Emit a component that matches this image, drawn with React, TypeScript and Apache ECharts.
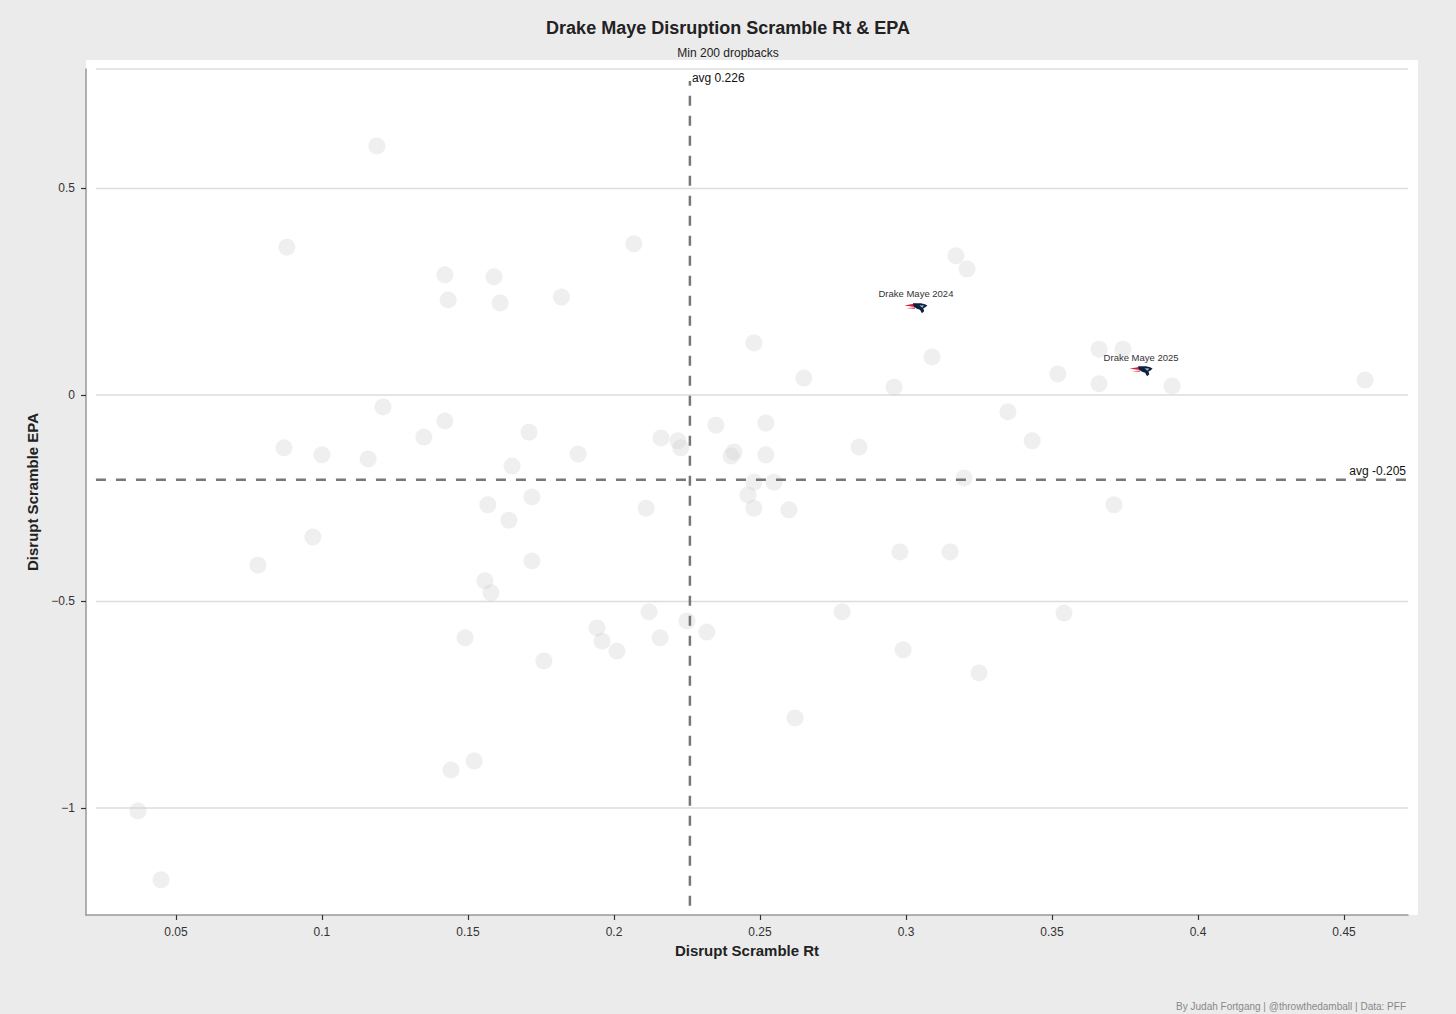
import React, { useEffect, useRef } from "react";
import * as echarts from "echarts";

// ---------- data ----------
const scrambleRt: number[] = [
  0.1188, 0.088, 0.1421, 0.1432, 0.1589, 0.161, 0.182, 0.2068, 0.2479, 0.3171,
  0.3209, 0.3089, 0.2959, 0.265, 0.3661, 0.3743, 0.352, 0.3661, 0.3911, 0.4572,
  0.3349, 0.3432, 0.3712, 0.3199, 0.2839, 0.252, 0.2349, 0.2411, 0.2401, 0.252,
  0.2548, 0.2479, 0.2459, 0.2479, 0.2599, 0.2219, 0.2229, 0.2161, 0.211, 0.1709,
  0.1877, 0.1651, 0.1568, 0.1719, 0.164, 0.1719, 0.1558, 0.1579, 0.1421, 0.1349,
  0.1209, 0.1158, 0.1, 0.087, 0.0969, 0.0781, 0.149, 0.176, 0.1942, 0.1959,
  0.201, 0.212, 0.2158, 0.225, 0.2318, 0.2781, 0.2979, 0.3151, 0.299, 0.325,
  0.3541, 0.262, 0.1442, 0.1521, 0.037, 0.0449,
];
const scrambleEpa: number[] = [
  0.603, 0.358, 0.291, 0.23, 0.286, 0.223, 0.237, 0.366, 0.126, 0.337,
  0.305, 0.092, 0.019, 0.041, 0.111, 0.111, 0.051, 0.027, 0.022, 0.036,
  -0.041, -0.111, -0.266, -0.201, -0.126, -0.068, -0.073, -0.138, -0.148, -0.145,
  -0.211, -0.211, -0.242, -0.274, -0.278, -0.111, -0.128, -0.104, -0.274, -0.09,
  -0.143, -0.172, -0.266, -0.247, -0.303, -0.402, -0.45, -0.479, -0.063, -0.102,
  -0.029, -0.155, -0.145, -0.128, -0.344, -0.412, -0.588, -0.644, -0.564, -0.596,
  -0.62, -0.525, -0.588, -0.547, -0.574, -0.525, -0.38, -0.38, -0.617, -0.673,
  -0.528, -0.782, -0.908, -0.886, -1.007, -1.174,
];

const mayeLabels: string[] = ["Drake Maye 2024", "Drake Maye 2025"];
const mayeRt: number[] = [0.3034, 0.3805];
const mayeEpa: number[] = [0.2107, 0.058];

const avgRt = 0.226;
const avgEpa = -0.205;

const xTicks: number[] = [0.05, 0.1, 0.15, 0.2, 0.25, 0.3, 0.35, 0.4, 0.45];
const yTicks: number[] = [-1, -0.5, 0, 0.5];

// ---------- layout ----------
const X_MIN = 0.0192;
const X_MAX = 0.4719;
const Y_MIN = -1.2591;
const Y_MAX = 0.7893;
const GRID_X0 = 0.0226; // where horizontal grid lines begin
const VLINE_Y0 = -1.237;
const VLINE_Y1 = 0.76;

const FONT = "'Liberation Sans', Arial, Helvetica, sans-serif";
const minus = (v: number) => String(v).replace("-", "\u2212");

const HEAD_RED = "M-11.5,-2.4 L-1,-4.4 L-1,-1 Z";
const HEAD_RED2 = "M-9.5,0.3 L-1,-0.6 L-1,1 Z";
const HEAD_NAVY =
  "M-3,-4.8 L5,-4.8 L9,-3.8 L11.5,-2.5 L9.4,-0.6 L7.4,0.4 L8.2,3.2 L6,5.2 L4,1.7 L1,0.7 L-2,-1.2 Z";
const HEAD_SILVER = "M3.5,-2.7 L8.2,-2.5 L6.3,-0.2 Z";

export default function App() {
  const ref = useRef<HTMLDivElement>(null);

  useEffect(() => {
    document.body.style.margin = "0";
    if (!ref.current) return;
    const chart = echarts.init(ref.current, undefined, { renderer: "svg" });

    const points = scrambleRt.map((x, i) => [x, scrambleEpa[i]]);
    const gridData = [...yTicks, Y_MAX].map((v) => [X_MIN, v]);
    const mayeData = mayeRt.map((x, i) => [x, mayeEpa[i], i]);

    const option: any = {
      animation: false,
      backgroundColor: "#ebebeb",
      textStyle: { fontFamily: FONT },
      title: [
        {
          text: "Drake Maye Disruption Scramble Rt & EPA",
          left: "center",
          top: 19,
          padding: 0,
          textStyle: { fontFamily: FONT, fontSize: 18, fontWeight: "bold", color: "#222" },
        },
        {
          text: "Min 200 dropbacks",
          left: "center",
          top: 47,
          padding: 0,
          textStyle: { fontFamily: FONT, fontSize: 12, fontWeight: "normal", color: "#222" },
        },
      ],
      graphic: [
        {
          type: "rect",
          z: -100,
          silent: true,
          shape: { x: 86, y: 60, width: 1332, height: 855 },
          style: { fill: "#ffffff" },
        },
        {
          type: "text",
          z: 10,
          silent: true,
          x: 1406,
          y: 1001,
          style: {
            text: "By Judah Fortgang | @throwthedamball | Data: PFF",
            fill: "#888",
            font: `10px ${FONT}`,
            align: "right",
            verticalAlign: "top",
          },
        },
      ],
      grid: { left: 86, right: 48, top: 69, bottom: 99, containLabel: false },
      xAxis: {
        type: "value",
        min: X_MIN,
        max: X_MAX,
        name: "Disrupt Scramble Rt",
        nameLocation: "middle",
        nameGap: 26,
        nameTextStyle: { fontFamily: FONT, fontSize: 15, fontWeight: "bold", color: "#222" },
        axisLine: { show: true, onZero: false, lineStyle: { color: "#999", width: 1.5 } },
        axisTick: { show: true, length: 5, customValues: xTicks, lineStyle: { color: "#333", width: 1.2 } },
        axisLabel: {
          show: true,
          margin: 11,
          customValues: xTicks,
          formatter: (v: number) => minus(v),
          fontFamily: FONT,
          fontSize: 12,
          color: "#333",
        },
        splitLine: { show: false },
      },
      yAxis: {
        type: "value",
        min: Y_MIN,
        max: Y_MAX,
        name: "Disrupt Scramble EPA",
        nameLocation: "middle",
        nameGap: 39,
        nameRotate: 90,
        nameTextStyle: { fontFamily: FONT, fontSize: 15, fontWeight: "bold", color: "#222" },
        axisLine: { show: true, onZero: false, lineStyle: { color: "#999", width: 1.5 } },
        axisTick: { show: true, length: 5, customValues: yTicks, lineStyle: { color: "#333", width: 1.2 } },
        axisLabel: {
          show: true,
          margin: 11,
          customValues: yTicks,
          formatter: (v: number) => minus(v),
          fontFamily: FONT,
          fontSize: 12,
          color: "#333",
        },
        splitLine: { show: false },
      },
      series: [
        {
          type: "custom",
          name: "grid",
          z: 1,
          silent: true,
          data: gridData,
          renderItem: (_p: any, api: any) => {
            const y = api.value(1);
            const a = api.coord([GRID_X0, y]);
            const b = api.coord([X_MAX, y]);
            return {
              type: "line",
              shape: { x1: a[0], y1: a[1], x2: b[0], y2: b[1] },
              style: { stroke: "#dcdcdc", lineWidth: 1.5 },
            };
          },
        },
        {
          type: "scatter",
          name: "QBs",
          z: 2,
          silent: true,
          symbol: "circle",
          symbolSize: 17,
          itemStyle: { color: "#cccccc", opacity: 0.32 },
          data: points,
        },
        {
          type: "custom",
          name: "avg",
          z: 3,
          silent: true,
          data: [[avgRt, avgEpa]],
          renderItem: (_p: any, api: any) => {
            const ax = api.value(0);
            const ay = api.value(1);
            const v0 = api.coord([ax, VLINE_Y0]);
            const v1 = api.coord([ax, VLINE_Y1]);
            const h0 = api.coord([GRID_X0, ay]);
            const h1 = api.coord([X_MAX, ay]);
            const dash = { stroke: "#777", lineWidth: 2.5, lineDash: [10, 10] };
            return {
              type: "group",
              children: [
                { type: "line", shape: { x1: v0[0], y1: v0[1], x2: v1[0], y2: v1[1] }, style: dash },
                { type: "line", shape: { x1: h0[0], y1: h0[1], x2: h1[0], y2: h1[1] }, style: dash },
                {
                  type: "text",
                  x: v1[0] + 2,
                  y: v1[1] - 3,
                  style: {
                    text: "avg " + ax.toFixed(3),
                    fill: "#111",
                    font: `12px ${FONT}`,
                    align: "left",
                    verticalAlign: "middle",
                  },
                },
                {
                  type: "text",
                  x: h1[0] - 2,
                  y: h1[1] - 9,
                  style: {
                    text: "avg " + ay.toFixed(3),
                    fill: "#111",
                    font: `12px ${FONT}`,
                    align: "right",
                    verticalAlign: "middle",
                  },
                },
              ],
            };
          },
        },
        {
          type: "custom",
          name: "Maye",
          z: 4,
          silent: true,
          data: mayeData,
          renderItem: (_p: any, api: any) => {
            const p = api.coord([api.value(0), api.value(1)]);
            const idx = api.value(2);
            return {
              type: "group",
              x: p[0],
              y: p[1],
              children: [
                { type: "path", shape: { pathData: HEAD_RED }, style: { fill: "#d21f3c" } },
                { type: "path", shape: { pathData: HEAD_RED2 }, style: { fill: "#e8566e" } },
                { type: "path", shape: { pathData: HEAD_NAVY }, style: { fill: "#0b2244" } },
                { type: "path", shape: { pathData: HEAD_SILVER }, style: { fill: "#b0b7bc" } },
                {
                  type: "text",
                  x: 0,
                  y: -14,
                  style: {
                    text: mayeLabels[idx],
                    fill: "#333",
                    font: `9.5px ${FONT}`,
                    align: "center",
                    verticalAlign: "middle",
                  },
                },
              ],
            };
          },
        },
      ],
    };

    chart.setOption(option);
    return () => {
      chart.dispose();
    };
  }, []);

  return <div ref={ref} style={{ width: 1456, height: 1014, background: "#ebebeb" }} />;
}
